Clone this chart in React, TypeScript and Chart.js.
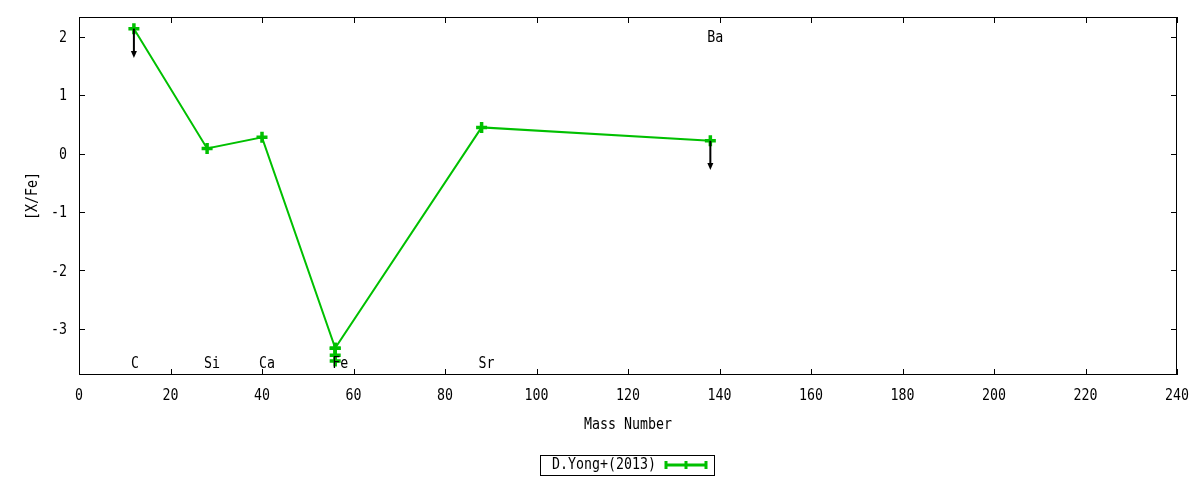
import { useEffect, useRef } from "react"
import { Chart, registerables } from "chart.js"

Chart.register(...registerables)

// abundance pattern, D.Yong+(2013)
const elements = ["C", "Si", "Ca", "Fe", "Sr", "Ba"]
const massNumbers = [12, 28, 40, 56, 88, 138]
const abundances = [2.14, 0.09, 0.28, -3.33, 0.45, 0.22]
const upperLimits = [true, false, false, false, false, true]
const labelHeights = [-3.58, -3.58, -3.58, -3.58, -3.58, 2.0]

// extra Fe measurements drawn as a vertical bar under the Fe point
const feMasses = [56, 56, 56]
const feValues = [-3.33, -3.45, -3.55]

const arrowLength = 0.5
const xMin = 0
const xMax = 240
const yMin = -3.79
const yMax = 2.34

const GREEN = "#00c000"
const FONT = "DejaVu Sans Mono"

// gnuplot's font is a narrow mono; squeeze DejaVu Sans Mono horizontally
function drawText(ctx: CanvasRenderingContext2D, text: string, x: number, y: number, align: CanvasTextAlign) {
  const squeeze = 0.83
  ctx.save()
  ctx.font = `16px ${FONT}`
  ctx.fillStyle = "#000"
  ctx.textAlign = align
  ctx.textBaseline = "middle"
  ctx.translate(x, y + 1)
  ctx.scale(squeeze, 1)
  ctx.fillText(text, 0, 0)
  ctx.restore()
}

const decorations = {
  id: "decorations",
  afterDatasetsDraw(chart: Chart) {
    const { ctx, chartArea: area } = chart
    const xs = chart.scales.x
    const ys = chart.scales.y
    ctx.save()

    // frame
    ctx.strokeStyle = "#000"
    ctx.lineWidth = 1
    ctx.strokeRect(area.left + 0.5, area.top + 0.5, area.right - area.left - 1, area.bottom - area.top - 1)

    // inward ticks on all four sides, with labels
    const tick = 6
    ctx.beginPath()
    xs.ticks.forEach((t) => {
      const px = Math.round(xs.getPixelForValue(t.value)) + 0.5
      ctx.moveTo(px, area.bottom)
      ctx.lineTo(px, area.bottom - tick)
      ctx.moveTo(px, area.top)
      ctx.lineTo(px, area.top + tick)
    })
    ys.ticks.forEach((t) => {
      const py = Math.round(ys.getPixelForValue(t.value)) + 0.5
      ctx.moveTo(area.left, py)
      ctx.lineTo(area.left + tick, py)
      ctx.moveTo(area.right, py)
      ctx.lineTo(area.right - tick, py)
    })
    ctx.stroke()
    xs.ticks.forEach((t) => {
      drawText(ctx, String(t.value), xs.getPixelForValue(t.value), area.bottom + 20, "center")
    })
    ys.ticks.forEach((t) => {
      drawText(ctx, String(t.value), area.left - 12, ys.getPixelForValue(t.value), "right")
    })

    // upper-limit arrows
    ctx.strokeStyle = "#000"
    ctx.fillStyle = "#000"
    ctx.lineWidth = 2
    massNumbers.forEach((m, i) => {
      if (!upperLimits[i]) return
      const px = xs.getPixelForValue(m)
      const y0 = ys.getPixelForValue(abundances[i])
      const y1 = ys.getPixelForValue(abundances[i] - arrowLength)
      ctx.beginPath()
      ctx.moveTo(px, y0)
      ctx.lineTo(px, y1 - 6)
      ctx.stroke()
      ctx.beginPath()
      ctx.moveTo(px - 3, y1 - 7)
      ctx.lineTo(px + 3, y1 - 7)
      ctx.lineTo(px, y1)
      ctx.closePath()
      ctx.fill()
    })

    // element labels
    elements.forEach((el, i) => {
      drawText(ctx, el, xs.getPixelForValue(massNumbers[i]) - 3, ys.getPixelForValue(labelHeights[i]), "left")
    })

    // axis titles
    drawText(ctx, "Mass Number", (area.left + area.right) / 2, 424, "center")
    ctx.save()
    ctx.translate(32, (area.top + area.bottom) / 2)
    ctx.rotate(-Math.PI / 2)
    drawText(ctx, "[X/Fe]", 0, 0, "center")
    ctx.restore()

    // legend box
    const lx = 540
    const ly = 455
    ctx.lineWidth = 1
    ctx.strokeStyle = "#000"
    ctx.strokeRect(lx + 0.5, ly + 0.5, 174, 20)
    drawText(ctx, "D.Yong+(2013)", 552, ly + 9, "left")
    ctx.strokeStyle = GREEN
    ctx.lineWidth = 3
    ctx.beginPath()
    ctx.moveTo(665, ly + 10)
    ctx.lineTo(707, ly + 10)
    ;[666, 686, 706].forEach((x) => {
      ctx.moveTo(x, ly + 6)
      ctx.lineTo(x, ly + 14)
    })
    ctx.stroke()

    ctx.restore()
  },
}

export default function App() {
  const chartRef = useRef<HTMLCanvasElement>(null)
  const chartInstance = useRef<Chart | null>(null)

  useEffect(() => {
    if (!chartRef.current) return
    if (chartInstance.current) chartInstance.current.destroy()

    const ctx = chartRef.current.getContext("2d")
    if (!ctx) return

    const pointStyle = {
      borderColor: GREEN,
      backgroundColor: GREEN,
      borderWidth: 2,
      pointStyle: "cross" as const,
      pointRadius: 5.5,
      pointBorderWidth: 3.5,
      pointHoverRadius: 5.5,
      tension: 0,
      showLine: true,
    }

    chartInstance.current = new Chart(ctx, {
      type: "scatter",
      data: {
        datasets: [
          {
            label: "D.Yong+(2013)",
            data: massNumbers.map((m, i) => ({ x: m, y: abundances[i] })),
            ...pointStyle,
          },
          {
            label: "Fe",
            data: feMasses.map((m, i) => ({ x: m, y: feValues[i] })),
            ...pointStyle,
          },
        ],
      },
      plugins: [decorations],
      options: {
        animation: false,
        responsive: true,
        maintainAspectRatio: false,
        layout: { padding: { top: 17, right: 23, left: 0, bottom: 0 } },
        plugins: {
          legend: { display: false },
          tooltip: { enabled: false },
        },
        scales: {
          x: {
            type: "linear",
            min: xMin,
            max: xMax,
            grid: { display: false, drawTicks: false },
            border: { display: false },
            ticks: { stepSize: 20, display: false },
            afterFit: (scale) => {
              scale.height = 105
            },
          },
          y: {
            type: "linear",
            min: yMin,
            max: yMax,
            grid: { display: false, drawTicks: false },
            border: { display: false },
            ticks: { stepSize: 1, display: false },
            afterBuildTicks: (scale) => {
              scale.ticks = scale.ticks.filter((t) => Number.isInteger(t.value))
            },
            afterFit: (scale) => {
              scale.width = 79
            },
          },
        },
      },
    })

    return () => {
      if (chartInstance.current) {
        chartInstance.current.destroy()
        chartInstance.current = null
      }
    }
  }, [])

  return (
    <div style={{ position: "fixed", left: 0, top: 0, width: 1200, height: 480, background: "#fff" }}>
      <canvas ref={chartRef} />
    </div>
  )
}
